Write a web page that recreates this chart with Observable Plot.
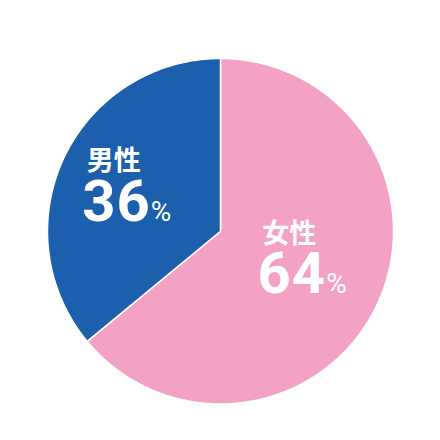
<!DOCTYPE html>
<html>
<head>
<meta charset="utf-8">
<script src="https://cdn.jsdelivr.net/npm/d3@7"></script>
<script src="https://cdn.jsdelivr.net/npm/@observablehq/plot@0.6"></script>
<style>
  html, body { margin: 0; padding: 0; background: #fff; }
  #chart svg { display: block; }
  g[font-size="58"] text { letter-spacing: 1px; }
</style>
</head>
<body>
<div id="chart"></div>
<script>
const categories = ["女性", "男性"];
const values = [64, 36];
const colors = ["#f3a2c6", "#1b5fad"];
const unit = "%";

// Pie geometry in unit-circle data space (angle 0 at 12 o'clock, clockwise)
const arcs = d3.pie().sort(null).value(d => d)(values);
const slicePoints = [];
arcs.forEach((a, i) => {
  const cat = categories[i];
  slicePoints.push({cat, x: 0, y: 0});
  const n = Math.max(2, Math.ceil((a.endAngle - a.startAngle) / (Math.PI / 360)));
  for (let k = 0; k <= n; k++) {
    const t = a.startAngle + (a.endAngle - a.startAngle) * k / n;
    slicePoints.push({cat, x: Math.sin(t), y: Math.cos(t)});
  }
  slicePoints.push({cat, x: 0, y: 0});
});

const labels = arcs.map((a, i) => {
  const mid = (a.startAngle + a.endAngle) / 2;
  return {cat: categories[i], value: values[i], x: 0.56 * Math.sin(mid), y: 0.495 * Math.cos(mid)};
});

const chart = Plot.plot({
  width: 440,
  height: 440,
  marginLeft: 47,
  marginRight: 47,
  marginTop: 58,
  marginBottom: 36.5,
  x: {domain: [-1, 1], axis: null},
  y: {domain: [-1, 1], axis: null},
  color: {domain: categories, range: colors},
  marks: [
    Plot.line(slicePoints, {x: "x", y: "y", z: "cat", fill: "cat", stroke: "white", strokeWidth: 1.5, curve: "linear"}),
    Plot.text(labels, {x: "x", y: "y", text: "cat", textAnchor: "start", lineAnchor: "bottom",
      dx: -46, dy: -25, fill: "white", fontSize: 27, fontWeight: "bold", fontFamily: "Noto Sans CJK JP"}),
    Plot.text(labels, {x: "x", y: "y", text: d => String(d.value), textAnchor: "end", lineAnchor: "bottom",
      dx: 18, dy: 25.75, fill: "white", fontSize: 58, fontWeight: "bold", fontFamily: "Roboto"}),
    Plot.text(labels, {x: "x", y: "y", text: () => unit, textAnchor: "start", lineAnchor: "bottom",
      dx: 18, dy: 25.75, fill: "white", fontSize: 28, fontWeight: "normal", fontFamily: "Roboto"})
  ]
});
document.getElementById("chart").append(chart);
</script>
</body>
</html>
